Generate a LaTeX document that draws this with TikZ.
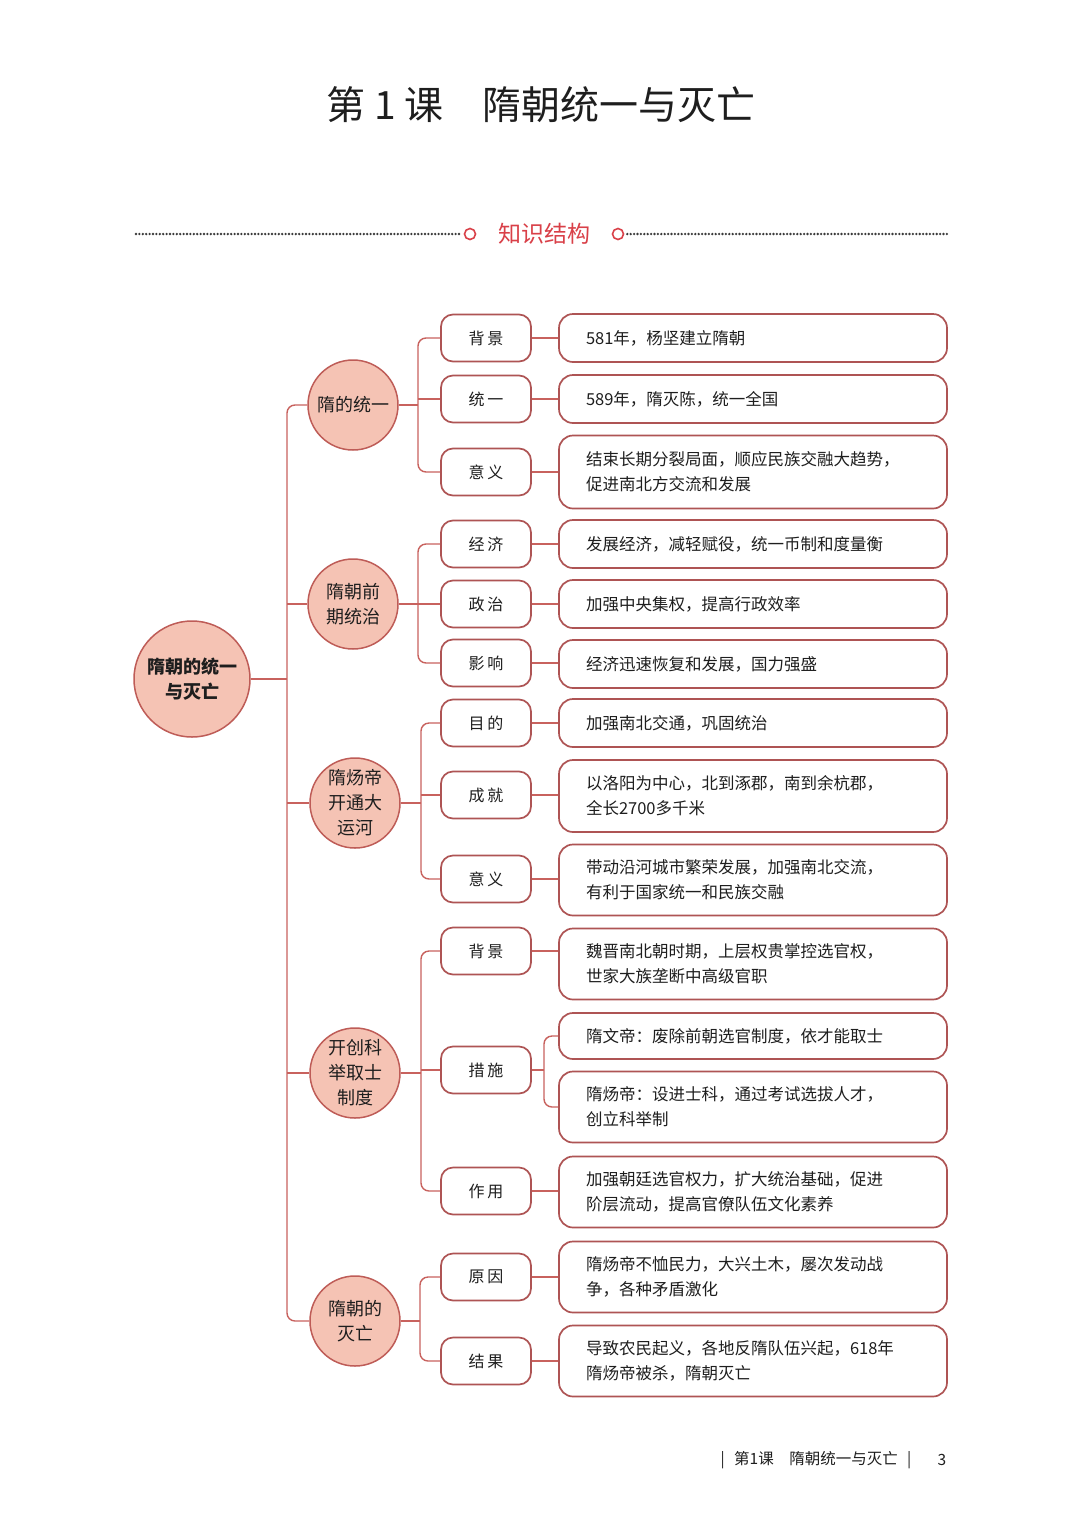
\documentclass[tikz,border=0pt]{standalone}
\usepackage{fontspec}
\setmainfont{Noto Sans CJK SC}
\usetikzlibrary{calc}
\definecolor{lnc}{HTML}{C8625E}
\definecolor{bbd}{HTML}{AE5454}
\definecolor{cfill}{HTML}{F5C3B4}
\definecolor{cbd}{HTML}{BE5C57}
\definecolor{hdred}{HTML}{D94048}
\definecolor{txt}{HTML}{1E1E1E}
\definecolor{dotc}{HTML}{3A3A3A}
\tikzset{
  conn/.style={draw=lnc, line width=1.4pt},
  rconn/.style={conn, rounded corners=8pt},
  rootc/.style={circle, draw=cbd, line width=1.5pt, fill=cfill, minimum size=116pt, inner sep=0pt, align=center, font=\fontsize{18}{25}\selectfont\bfseries, text=txt},
  catc/.style={circle, draw=cbd, line width=1.5pt, fill=cfill, minimum size=90pt, inner sep=0pt, align=center, font=\fontsize{18}{25}\selectfont, text=txt},
  subbox/.style={rectangle, rounded corners=12pt, draw=bbd, line width=1.7pt, fill=white, minimum width=90pt, minimum height=47pt, inner sep=0pt, font=\fontsize{16}{20}\selectfont, text=txt},
  leaf/.style={rectangle, rounded corners=14pt, draw=bbd, line width=1.7pt, fill=white, minimum width=388pt, inner xsep=27pt, inner ysep=0pt, text width=334pt, align=left, font=\fontsize{16.5}{25}\selectfont, text=txt},
  one/.style={leaf, minimum height=48pt},
  two/.style={leaf, minimum height=72pt},
  dotline/.style={draw=dotc, line width=2.6pt, line cap=round, dash pattern=on 0pt off 3.4pt},
  hcirc/.style={circle, draw=hdred, line width=1.6pt, minimum size=11pt, inner sep=0pt},
}
\newcommand{\gsp}{\hspace{3pt}}
\begin{document}
\begin{tikzpicture}[x=1pt,y=-1pt]
\path[fill=white,use as bounding box] (0,0) rectangle (1080,1527);

% title
\node[text=txt, font=\fontsize{39}{42}\selectfont] (title) at (541,105) {第 1 课\hspace{1em}隋朝统一与灭亡};

% section header
\node[text=hdred, font=\fontsize{23}{26}\selectfont] (kh) at (544,234) {知识结构};
\node[hcirc] (o1) at (470,234) {};
\node[hcirc] (o2) at (618,234) {};
\coordinate (dl) at (136,234);
\coordinate (dr) at (948,234);
\draw[dotline] (dl) -- ($(o1.west)+(-3,0)$);
\draw[dotline] ($(o2.east)+(3,0)$) -- (dr);

% root and categories
\node[rootc] (root) at (192,679) {隋朝的统一\\与灭亡};
\node[catc] (c1) at (353,405) {隋的统一};
\node[catc] (c2) at (353,604) {隋朝前\\期统治};
\node[catc] (c3) at (355,803) {隋炀帝\\开通大\\运河};
\node[catc] (c4) at (355,1073) {开创科\\举取士\\制度};
\node[catc] (c5) at (355,1321) {隋朝的\\灭亡};

% second level
\node[subbox] (s1) at (486,338) {背\gsp 景};
\node[subbox] (s2) at (486,399) {统\gsp 一};
\node[subbox] (s3) at (486,472) {意\gsp 义};
\node[subbox] (s4) at (486,544) {经\gsp 济};
\node[subbox] (s5) at (486,604) {政\gsp 治};
\node[subbox] (s6) at (486,663) {影\gsp 响};
\node[subbox] (s7) at (486,723) {目\gsp 的};
\node[subbox] (s8) at (486,795) {成\gsp 就};
\node[subbox] (s9) at (486,879) {意\gsp 义};
\node[subbox] (s10) at (486,951) {背\gsp 景};
\node[subbox] (s11) at (486,1070) {措\gsp 施};
\node[subbox] (s12) at (486,1191) {作\gsp 用};
\node[subbox] (s13) at (486,1277) {原\gsp 因};
\node[subbox] (s14) at (486,1361) {结\gsp 果};

% leaves
\node[one] (t1) at (753,338) {581年，杨坚建立隋朝};
\node[one] (t2) at (753,399) {589年，隋灭陈，统一全国};
\node[two, minimum height=73pt] (t3) at (753,472) {结束长期分裂局面，顺应民族交融大趋势，\\促进南北方交流和发展};
\node[one] (t4) at (753,544) {发展经济，减轻赋役，统一币制和度量衡};
\node[one] (t5) at (753,604) {加强中央集权，提高行政效率};
\node[one] (t6) at (753,664) {经济迅速恢复和发展，国力强盛};
\node[one] (t7) at (753,723) {加强南北交通，巩固统治};
\node[two] (t8) at (753,796) {以洛阳为中心，北到涿郡，南到余杭郡，\\全长2700多千米};
\node[two, minimum height=71pt] (t9) at (753,880) {带动沿河城市繁荣发展，加强南北交流，\\有利于国家统一和民族交融};
\node[two, minimum height=71pt] (t10) at (753,964) {魏晋南北朝时期，上层权贵掌控选官权，\\世家大族垄断中高级官职};
\node[one, minimum height=46pt] (t11) at (753,1036) {隋文帝：废除前朝选官制度，依才能取士};
\node[two, minimum height=71pt] (t12) at (753,1107) {隋炀帝：设进士科，通过考试选拔人才，\\创立科举制};
\node[two, minimum height=71pt] (t13) at (753,1192) {加强朝廷选官权力，扩大统治基础，促进\\阶层流动，提高官僚队伍文化素养};
\node[two, minimum height=71pt] (t14) at (753,1277) {隋炀帝不恤民力，大兴土木，屡次发动战\\争，各种矛盾激化};
\node[two, minimum height=71pt] (t15) at (753,1361) {导致农民起义，各地反隋队伍兴起，618年\\隋炀帝被杀，隋朝灭亡};

% trunk
\coordinate (trunk) at (287,679);
\draw[conn] (root.east) -- (trunk);
\draw[rconn] (c1.west) -| (trunk) |- (c5.west);
\draw[conn] (trunk |- c2.west) -- (c2.west);
\draw[conn] (trunk |- c3.west) -- (c3.west);
\draw[conn] (trunk |- c4.west) -- (c4.west);

% category branches
\coordinate (b1) at (418,405);
\draw[conn] (c1.east) -- (b1);
\draw[rconn] (s1.west) -| (b1) |- (s3.west);
\draw[conn] (b1 |- s2.west) -- (s2.west);

\coordinate (b2) at (418,604);
\draw[conn] (c2.east) -- (b2);
\draw[rconn] (s4.west) -| (b2) |- (s6.west);
\draw[conn] (b2 |- s5.west) -- (s5.west);

\coordinate (b3) at (421,803);
\draw[conn] (c3.east) -- (b3);
\draw[rconn] (s7.west) -| (b3) |- (s9.west);
\draw[conn] (b3 |- s8.west) -- (s8.west);

\coordinate (b4) at (421,1073);
\draw[conn] (c4.east) -- (b4);
\draw[rconn] (s10.west) -| (b4) |- (s12.west);
\draw[conn] (b4 |- s11.west) -- (s11.west);

\coordinate (b5) at (420,1321);
\draw[conn] (c5.east) -- (b5);
\draw[rconn] (s13.west) -| (b5) |- (s14.west);

% second to third
\foreach \s/\t in {s1/t1,s2/t2,s3/t3,s4/t4,s5/t5,s6/t6,s7/t7,s8/t8,s9/t9,s10/t10,s12/t13,s13/t14,s14/t15}
  \draw[conn] (\s.east) -- (\s.east -| \t.west);

\coordinate (m) at (544,1070);
\draw[conn] (s11.east) -- (m);
\draw[rconn] (t11.west) -| (m) |- (t12.west);

% footer
\node[text=txt, font=\fontsize{15.5}{18}\selectfont] (ft) at (816,1460) {|\hspace{0.6em}第1课\hspace{1em}隋朝统一与灭亡\hspace{0.6em}|};
\node[text=txt, font=\fontsize{15.5}{18}\selectfont] (pg) at (942,1460) {3};
\end{tikzpicture}
\end{document}
